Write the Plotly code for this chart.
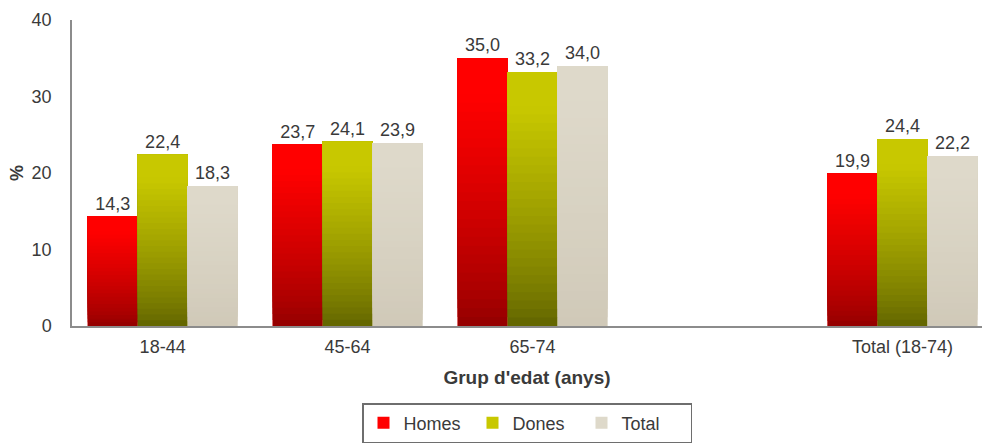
import plotly.graph_objects as go

categories = ["18-44", "45-64", "65-74", "Total (18-74)"]
axis_order = ["18-44", "45-64", "65-74", " ", "Total (18-74)"]
homes = [14.3, 23.7, 35.0, 19.9]
dones = [22.4, 24.1, 33.2, 24.4]
total = [18.3, 23.9, 34.0, 22.2]
series_names = ["Homes", "Dones", "Total"]
y_ticks = [0, 10, 20, 30, 40]

series = [
    (series_names[0], homes, (255, 0, 0), (150, 0, 0), -0.405),
    (series_names[1], dones, (200, 200, 0), (100, 103, 0), -0.135),
    (series_names[2], total, (222, 217, 202), (208, 201, 184), 0.135),
]
BW = 0.27
N = 30
FONT = "Liberation Sans, Arial"
TXT = "#3a3a3a"

fig = go.Figure()
for name, vals, top, bot, off in series:
    topc = "rgb(%d,%d,%d)" % top
    fig.add_trace(go.Bar(
        x=categories, y=vals, name=name, offset=off, width=BW,
        marker=dict(color=topc, line=dict(width=0)),
        text=[("%.1f" % v).replace(".", ",") for v in vals],
        textposition="outside", cliponaxis=False,
        textfont=dict(size=18, color=TXT, family=FONT),
        showlegend=True, hoverinfo="skip",
    ))
for name, vals, top, bot, off in series:
    for k in range(N):
        f = k / N
        g = min(1.0, f ** 0.8 * 1.15)
        c = tuple(int(bot[i] + (top[i] - bot[i]) * g) for i in range(3))
        fig.add_trace(go.Bar(
            x=categories, y=[v * (1 - k / N) for v in vals],
            base=[v * k / N for v in vals],
            offset=off, width=BW,
            marker=dict(color="rgb(%d,%d,%d)" % c, line=dict(width=0)),
            showlegend=False, hoverinfo="skip",
        ))

fig.update_layout(
    width=982, height=446,
    barmode="overlay",
    plot_bgcolor="white", paper_bgcolor="white",
    margin=dict(l=72, r=0, t=20, b=120),
    font=dict(family=FONT, size=18, color=TXT),
    xaxis=dict(
        type="category", categoryorder="array", categoryarray=axis_order,
        range=[-0.49, 4.43],
        showline=True, linecolor="#8c8c8c", linewidth=1.5,
        showgrid=False, ticks="", ticklabelstandoff=4,
        tickfont=dict(size=18, color=TXT),
        title=dict(text="<b>Grup d'edat (anys)</b>", font=dict(size=19, color=TXT), standoff=14),
    ),
    yaxis=dict(
        range=[0, 40], tickvals=y_ticks,
        showline=True, linecolor="#8c8c8c", linewidth=1.5,
        showgrid=False, ticks="", ticklabelstandoff=15,
        tickfont=dict(size=18, color=TXT),
        zeroline=False,
        title=dict(text="<b>%</b>", font=dict(size=18, color=TXT), standoff=3),
    ),
    legend=dict(
        orientation="h", x=0.5, xanchor="center", y=-0.252, yanchor="top",
        bordercolor="#6e6e6e", borderwidth=1.5,
        font=dict(size=18, color=TXT),
        entrywidth=64, itemwidth=30,
    ),
)

fig.write_html("out.html")
